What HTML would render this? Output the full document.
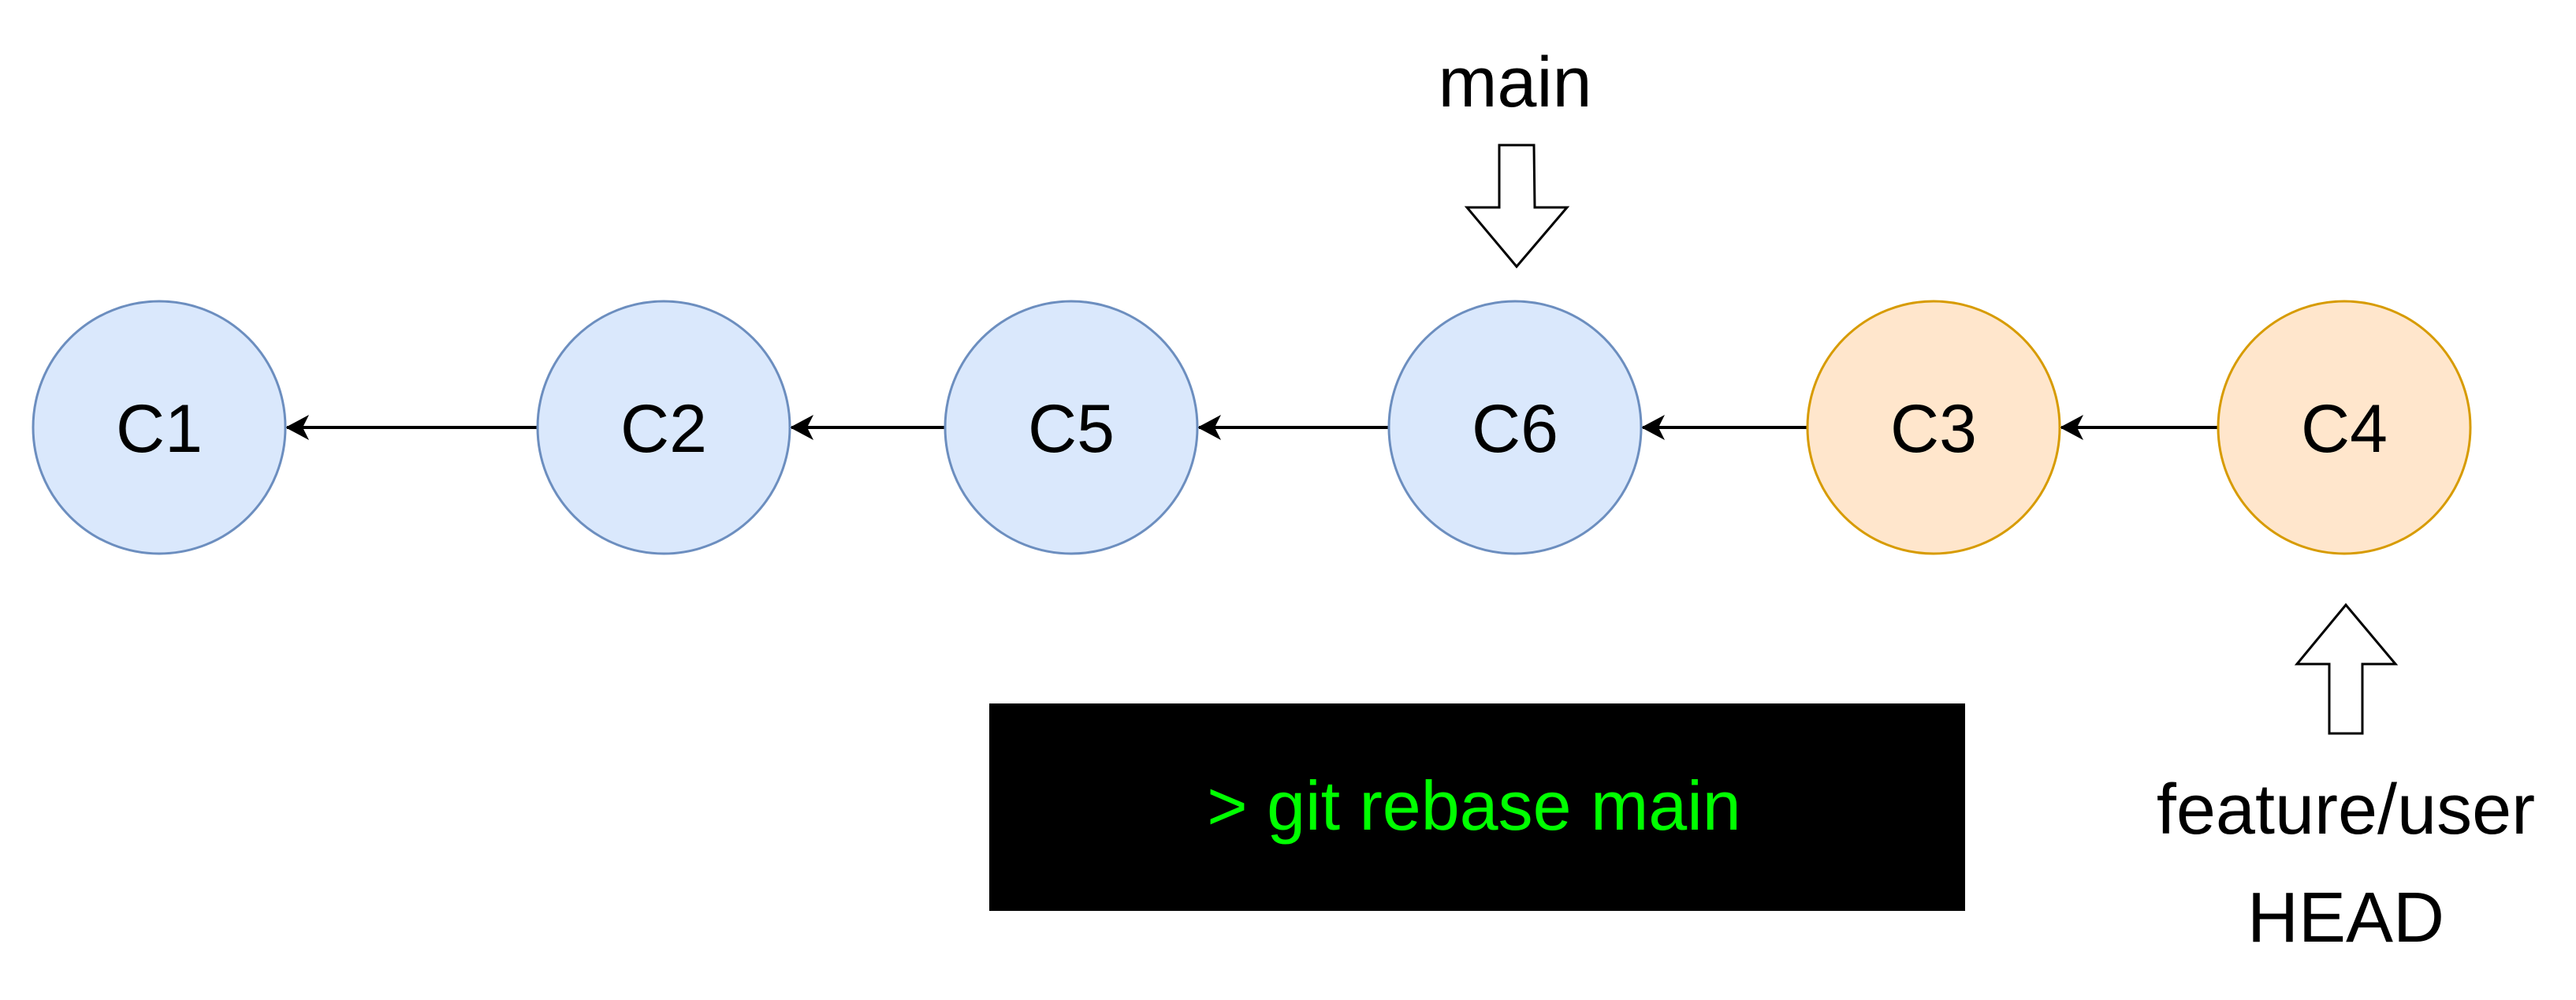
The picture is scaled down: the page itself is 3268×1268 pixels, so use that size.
<!DOCTYPE html>
<html><head><meta charset="utf-8"><style>html,body{margin:0;padding:0;background:#fff}svg{display:block}</style></head>
<body>
<svg width="3268" height="1268" viewBox="0 0 3268 1268" xmlns="http://www.w3.org/2000/svg" font-family="Liberation Sans, Arial, sans-serif">
<g stroke="#000" stroke-width="4">
<line x1="682" y1="542" x2="364" y2="542"/>
<line x1="1199" y1="542" x2="1004" y2="542"/>
<line x1="1762" y1="542" x2="1521" y2="542"/>
<line x1="2293" y1="542" x2="2084" y2="542"/>
<line x1="2814" y1="542" x2="2615" y2="542"/>
</g>
<g fill="#000">
<path d="M362,542 L392,526 L384,542 L392,558 Z"/>
<path d="M1002,542 L1032,526 L1024,542 L1032,558 Z"/>
<path d="M1519,542 L1549,526 L1541,542 L1549,558 Z"/>
<path d="M2082,542 L2112,526 L2104,542 L2112,558 Z"/>
<path d="M2613,542 L2643,526 L2635,542 L2643,558 Z"/>
</g>
<g stroke-width="3">
<circle cx="202" cy="542" r="160" fill="#dae8fc" stroke="#6c8ebf"/>
<circle cx="842" cy="542" r="160" fill="#dae8fc" stroke="#6c8ebf"/>
<circle cx="1359" cy="542" r="160" fill="#dae8fc" stroke="#6c8ebf"/>
<circle cx="1922" cy="542" r="160" fill="#dae8fc" stroke="#6c8ebf"/>
<circle cx="2453" cy="542" r="160" fill="#ffe6cc" stroke="#d79b00"/>
<circle cx="2974" cy="542" r="160" fill="#ffe6cc" stroke="#d79b00"/>
</g>
<g font-size="86" text-anchor="middle" fill="#000">
<text x="202" y="573">C1</text>
<text x="842" y="573">C2</text>
<text x="1359" y="573">C5</text>
<text x="1922" y="573">C6</text>
<text x="2453" y="573">C3</text>
<text x="2974" y="573">C4</text>
</g>
<g font-size="90" text-anchor="middle" fill="#000">
<text x="1922" y="135">main</text>
<text x="2976" y="1057">feature/user</text>
<text x="2976" y="1194">HEAD</text>
</g>
<path d="M1902,184 L1946,184 L1947,263 L1988,263 L1924,338 L1861,263 L1902,263 Z" fill="#fff" stroke="#000" stroke-width="3"/>
<path d="M2976,767 L3039,842 L2997,842 L2997,930 L2955,930 L2955,842 L2914,842 Z" fill="#fff" stroke="#000" stroke-width="3"/>
<rect x="1255" y="892" width="1238" height="263" fill="#000"/>
<text x="1870" y="1052" font-size="88" text-anchor="middle" fill="#00ff00">&gt; git rebase main</text>
</svg>
</body></html>
